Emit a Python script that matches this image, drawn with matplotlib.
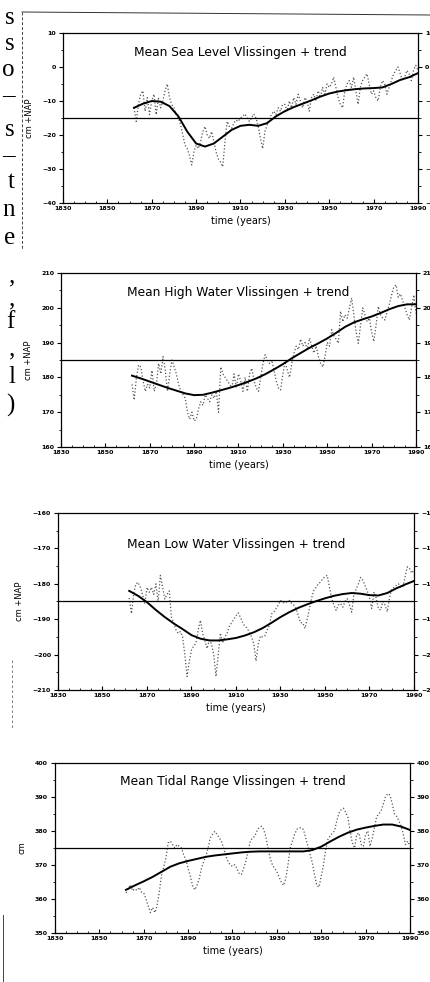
import numpy as np
import matplotlib.pyplot as plt
from matplotlib.lines import Line2D
from matplotlib.ticker import MultipleLocator

W, H = 431, 982

years = np.arange(1862, 1991)
trend_years = np.arange(1862, 1991, 4)

# annual means (cm), one row per decade
msl = [
    -12, -16, -11, -8, -7, -13, -9, -14,
    -10, -8, -14, -9, -12, -10, -7, -5, -9, -11,
    -12, -14, -15, -17, -20, -23, -24, -26, -28.8, -25,
    -23, -24, -22, -19, -17.5, -20, -21, -19, -22, -25,
    -27, -28, -29.3, -22, -16, -17.5, -18, -16.5, -15.6, -16,
    -15, -14.5, -13.8, -15, -16, -15, -13.8, -15, -17.5, -21,
    -24, -19, -17, -15, -14, -13, -14, -12, -13, -11,
    -11, -13, -10, -12, -9, -11, -8, -10, -12, -9,
    -10, -13, -9, -8, -10, -7, -9, -6, -8, -5,
    -6, -5, -3, -6, -9, -11, -12, -7, -5, -4,
    -6, -3, -7, -11, -6, -4, -3, -2, -5, -8,
    -7, -9, -10, -6, -4, -5, -8, -6, -4, -2,
    -1, 0, -2, -4, -3, -1, -2, -4, -1, 0.5,
    -1,
]
msl_trend = [-12, -10.8, -10.0, -10.2, -11.5, -14.5, -19.0, -22.5, -23.4, -22.5,
             -20.5, -18.5, -17.3, -17.0, -17.3, -16.5, -14.5, -13.0, -11.8, -10.8,
             -9.8, -8.7, -7.8, -7.2, -6.8, -6.5, -6.3, -6.2, -6.0, -5.0,
             -3.8, -3.0, -1.8]

mhw = [
    178, 173.5, 180, 183.6, 183, 179, 176, 178,
    177, 182, 176, 178, 184, 181, 186, 182, 176, 181,
    185, 183, 181, 178, 176, 175, 174, 170, 168, 170,
    167.5, 168, 171, 173, 172, 175, 174, 173, 175, 174,
    176, 170, 183, 181, 180, 179, 178, 177, 181, 177,
    181, 179, 176, 180, 176, 181, 182.6, 179, 177, 176,
    180, 184, 186.5, 185, 184, 185, 182, 179, 177, 176.4,
    181, 184.5, 182, 180, 184, 187, 189, 188, 191, 189,
    190, 188, 191.3, 189, 187, 189, 186, 184, 183, 186,
    190, 189, 193.7, 192, 191, 189.8, 199, 196, 198, 197,
    200, 202.8, 198, 193, 189.8, 195, 200, 198, 196, 197,
    193, 190.3, 195, 200.4, 198, 197, 196.5, 199, 201, 203.7,
    206, 206.6, 203, 204, 202, 200, 198, 196.5, 200, 203.7,
    198.4,
]
mhw_trend = [180.5, 179.7, 178.8, 177.9, 177.0, 176.2, 175.4, 174.9, 175.0, 175.6,
             176.3, 177.0, 177.8, 178.7, 179.7, 180.9, 182.3, 183.8, 185.5, 187.0,
             188.5, 189.8, 191.2, 192.8, 194.5, 195.8, 196.7, 197.5, 198.5, 199.6,
             200.5, 201.0, 201.0]

mlw = [
    -184, -188.4, -183, -180, -179.6, -181, -183, -185.7,
    -181, -182.4, -181, -183, -180, -185.2, -177.6, -181, -184.3, -183,
    -182, -189.5, -191, -193, -194, -193.5, -195, -200, -206.2, -202,
    -198.7, -197.5, -196.8, -193, -190.3, -194, -196, -198.3, -195.9, -197,
    -200, -206.2, -200, -193.9, -196.7, -195, -194, -192, -191, -190.1,
    -189, -188.2, -189.5, -191, -192, -192.5, -193.8, -195, -197, -201.8,
    -197, -194.7, -195, -194.7, -193, -191.8, -188.5, -188, -187, -186,
    -184.7, -185.2, -185.5, -185, -184.7, -185.5, -186, -187, -189, -191,
    -191, -192.6, -190, -187, -184, -181.8, -181, -180, -179.5, -178.5,
    -178, -177.6, -181, -184.2, -186, -187.5, -186, -185.6, -186.6, -185,
    -184.2, -186, -188, -183, -181.5, -180, -178.2, -179, -180.5, -182,
    -184, -187, -182.3, -184, -187, -187.4, -185, -186, -187.9, -184,
    -181.4, -181, -180.5, -180, -181, -180.9, -178, -175.2, -175.7, -177,
    -176,
]
mlw_trend = [-182.0, -183.4, -185.2, -187.4, -189.4, -191.2, -192.8, -194.5, -195.5, -196.0,
             -196.0, -195.7, -195.3, -194.6, -193.7, -192.5, -191.0, -189.4, -188.0, -186.8,
             -185.8, -184.9, -184.1, -183.4, -182.9, -182.6, -182.8, -183.2, -183.3, -182.6,
             -181.3, -180.2, -179.2]

mtr = [
    361.8, 363, 364.2, 362.4, 363, 362.5, 363.4, 362,
    361.8, 360, 358, 356, 357.5, 356, 358, 362, 367, 369.5,
    372, 376.5, 377, 376, 375, 376, 375.5, 375, 373, 371.5,
    369, 366.7, 364, 362.7, 364, 366, 369, 371, 372.6, 375,
    378, 379, 379.9, 379, 378, 377, 375, 372.6, 371, 370,
    369.6, 370.1, 369, 367.5, 367.2, 369, 371, 374, 377, 378,
    378.4, 380, 381, 381.4, 380.5, 378.4, 375, 372, 370, 369,
    368, 366.5, 365, 364, 366, 370, 375, 377, 379, 380.5,
    380.9, 381, 380.4, 378, 375.5, 373, 370.6, 367, 364, 363.5,
    366.7, 370, 374.5, 377.5, 378.5, 379.4, 380, 383, 385.3, 386.3,
    386.7, 385.5, 384, 380, 376.5, 375, 379, 379.4, 376, 375.5,
    379, 380, 375.5, 378, 381, 384.3, 385, 386, 388, 390.2,
    391, 390.5, 388, 385, 384.3, 383, 381.4, 379, 376, 377,
    375.5,
]
mtr_trend = [362.7, 364.0, 365.2, 366.5, 368.0, 369.5, 370.5, 371.2, 371.8, 372.4,
             372.8, 373.1, 373.4, 373.7, 373.9, 374.0, 374.0, 374.0, 374.0, 374.0,
             374.0, 374.4, 375.4, 376.9, 378.3, 379.5, 380.4, 381.0, 381.5, 381.9,
             381.9, 381.3, 380.3]

titles = ['Mean Sea Level Vlissingen + trend',
          'Mean High Water Vlissingen + trend',
          'Mean Low Water Vlissingen + trend',
          'Mean Tidal Range Vlissingen + trend']
ref_levels = [-15, 185, -185, 375]
ylims = [(-40, 10), (160, 210), (-210, -160), (350, 400)]
ylabels = ['cm +NAP', 'cm +NAP', 'cm +NAP', 'cm']
xticks = list(range(1830, 1991, 20))

# axes boxes in pixels: left, top, right, bottom
boxes = [(63, 33, 418, 203), (61, 273, 416, 447), (58, 513, 414, 690), (55, 763, 410, 933)]
title_y = [0.888, 0.89, 0.82, 0.89]

series = [(msl, msl_trend), (mhw, mhw_trend), (mlw, mlw_trend), (mtr, mtr_trend)]

fig = plt.figure(figsize=(W / 100, H / 100), dpi=100)

for i, (data, trend) in enumerate(series):
    l, t, r, b = boxes[i]
    ax = fig.add_axes([l / W, 1 - b / H, (r - l) / W, (b - t) / H])
    ax.plot(years, data, ls=':', lw=0.9, color='#555555')
    ax.plot(trend_years, trend, ls='-', lw=1.4, color='black')
    ax.axhline(ref_levels[i], color='black', lw=0.9)
    ax.set_xlim(1830, 1990)
    ax.set_ylim(*ylims[i])
    ax.set_xticks(xticks)
    ax.xaxis.set_minor_locator(MultipleLocator(5))
    ax.yaxis.set_major_locator(MultipleLocator(10))
    ax.yaxis.set_minor_locator(MultipleLocator(5))
    ax.tick_params(axis='x', which='both', direction='in', top=False)
    ax.tick_params(axis='y', which='both', direction='out', left=True, right=True,
                   labelright=True)
    ax.tick_params(which='major', length=3, width=0.8, labelsize=4.5, pad=2)
    ax.tick_params(which='minor', length=1.8, width=0.6)
    for lab in ax.get_xticklabels() + ax.get_yticklabels():
        lab.set_fontweight('bold')
    for lab in ax.yaxis.get_ticklabels(which='major'):
        lab.set_fontweight('bold')
    for sp in ax.spines.values():
        sp.set_linewidth(0.9)
    ax.spines['top'].set_linestyle((0, (2, 1)))
    ax.set_xlabel('time (years)', fontsize=7, labelpad=4)
    ax.set_ylabel(ylabels[i], fontsize=6, labelpad=6)
    ax.text(0.5, title_y[i], titles[i], transform=ax.transAxes, ha='center',
            va='center', fontsize=8.8)

# page frame and column edge
fig.add_artist(Line2D([22 / W, 1], [1 - 12 / H, 1 - 15 / H], color='#333333', lw=0.7))
fig.add_artist(Line2D([22 / W, 22 / W], [1 - 12 / H, 1 - 250 / H], color='#444444',
                      lw=0.7, ls=(0, (3, 2))))
fig.add_artist(Line2D([12 / W, 12 / W], [1 - 660 / H, 1 - 730 / H], color='#666666',
                      lw=0.6, ls=(0, (3, 3))))
fig.add_artist(Line2D([3 / W, 3 / W], [1 - 915 / H, 0], color='#444444', lw=0.7))

# text cut from the neighbouring column
margin = [('s', 18), ('s', 44), ('o', 70), ('–', 95), ('s', 130), ('–', 155),
          ('t', 182), ('n', 210), ('e', 238), (',', 276), (',', 299), ('f', 322),
          (',', 349), ('l', 377), (')', 405)]
for ch, y in margin:
    fig.text(15 / W, 1 - y / H, ch, ha='right', va='center', fontsize=18,
             family='Liberation Serif')

fig.savefig('out.png', dpi=100)
